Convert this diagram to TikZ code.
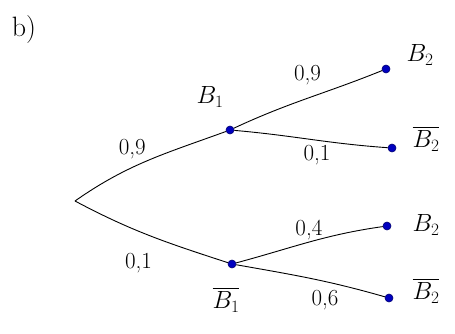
\documentclass[tikz,border=0pt]{standalone}
\usepackage{amsmath,amssymb}
\usepackage{tikz}

\begin{document}
\begin{tikzpicture}[x=1pt, y=1pt, font=\fontsize{23}{26}\selectfont,
  dot/.style={circle, fill=blue!75!black, draw=blue!45!black, line width=0.6pt, inner sep=0pt, minimum size=8pt},
  branch/.style={line width=0.9pt}]
  \useasboundingbox (0,0) rectangle (455,333);
  \node (part) at (24,303) {\fontsize{28}{30}\selectfont b)};
  \coordinate (root) at (75,132);
  \node[dot] (b1) at (230,203) {};
  \node[dot] (nb1) at (232,69) {};
  \node[dot] (b1b2) at (386,264) {};
  \node[dot] (b1nb2) at (392,185) {};
  \node[dot] (nb1b2) at (387,107) {};
  \node[dot] (nb1nb2) at (389,35) {};
  \node (lb1) at (210,236) {$B_1$};
  \node (lnb1) at (226,33) {$\overline{B_1}$};
  \node (lb1b2) at (420,278) {$B_2$};
  \node (lb1nb2) at (426,194) {$\overline{B_2}$};
  \node (lnb1b2) at (426,108) {$B_2$};
  \node (lnb1nb2) at (426,42) {$\overline{B_2}$};
  \draw[branch] (root) to[out=35, in=200] node[above left, xshift=2pt, yshift=-2pt] (p1) {0,9} (b1);
  \draw[branch] (root) to[out=-28, in=162] node[below left, xshift=6pt, yshift=-14pt] (p2) {0,1} (nb1);
  \draw[branch] (b1) to[out=25, in=202] node[above, yshift=10pt] (p3) {0,9} (b1b2);
  \draw[branch] (b1) to[out=-5, in=176] node[below, xshift=6pt, yshift=-2pt] (p4) {0,1} (b1nb2);
  \draw[branch] (nb1) to[out=15, in=188] node[above, yshift=-2pt] (p5) {0,4} (nb1b2);
  \draw[branch] (nb1) to[out=-10, in=164] node[below, xshift=14pt, yshift=-8pt] (p6) {0,6} (nb1nb2);
\end{tikzpicture}
\end{document}
